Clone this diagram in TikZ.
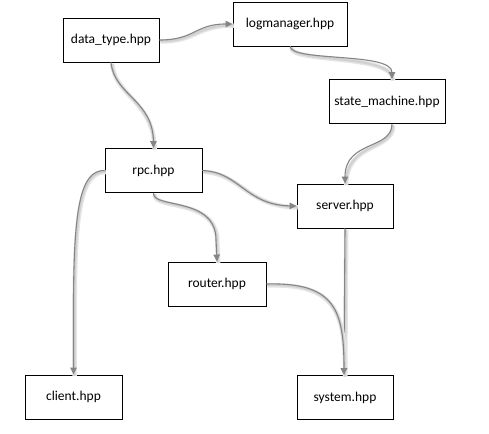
\documentclass[tikz,border=0pt]{standalone}
\usepackage{fontspec}
\setmainfont{Carlito}
\usetikzlibrary{arrows.meta}
\tikzset{
  filebox/.style={draw=black, line width=0.9pt, fill=white, minimum width=#1, minimum height=44pt, inner sep=0pt, font=\fontsize{13.5}{16}\selectfont},
  dep/.style={draw=black!48, line width=1.1pt, -{Triangle[length=7pt,width=6.5pt]},
    preaction={draw=black!10, line width=4.5pt, -, transform canvas={shift={(1.2pt,-1.5pt)}}},
    preaction={draw=black!18, line width=2.2pt, -, transform canvas={shift={(1pt,-1.2pt)}}}}
}
\begin{document}
\begin{tikzpicture}[x=1pt,y=-1pt]
\useasboundingbox (0,0) rectangle (489,433);
\fill[white] (0,0) rectangle (489,433);
% nodes
\node[filebox=96pt] (dt) at (111,40) {data\_type.hpp};
\node[filebox=114pt] (lm) at (290,24) {logmanager.hpp};
\node[filebox=116pt] (sm) at (387,101.5) {state\_machine.hpp};
\node[filebox=97pt] (rpc) at (153.5,170.5) {rpc.hpp};
\node[filebox=96pt] (srv) at (345,206) {server.hpp};
\node[filebox=98pt] (rt) at (217,284) {router.hpp};
\node[filebox=96pt] (sys) at (345,397.5) {system.hpp};
\node[filebox=97pt] (cl) at (73.5,397) {client.hpp};
\coordinate (smin) at ([xshift=5pt]sm.north);
\coordinate (smout) at ([xshift=5pt]sm.south);
\coordinate (sysin) at ([xshift=-1pt]sys.north);
% connectors
\draw[dep] (dt.east) .. controls (195,40) and (195,24) .. (lm.west);
\draw[dep] (lm.south) .. controls (292,62) and (392,52) .. (smin);
\draw[dep] (dt.south) .. controls (114,95) and (153,100) .. (rpc.north);
\draw[dep] (rpc.east) .. controls (240,172) and (245,205) .. (srv.west);
\draw[dep] (rpc.south) .. controls (152,209) and (216,196) .. (216,240) -- (rt.north);
\draw[dep] (rpc.west) .. controls (80,170) and (74,210) .. (73.5,300) -- (cl.north);
\draw[dep] (srv.south) -- (sysin);
\draw[dep] (rt.east) .. controls (335,282) and (344,310) .. (sysin);
\draw[dep] (smout) .. controls (392,150) and (345,140) .. (srv.north);
\end{tikzpicture}
\end{document}
